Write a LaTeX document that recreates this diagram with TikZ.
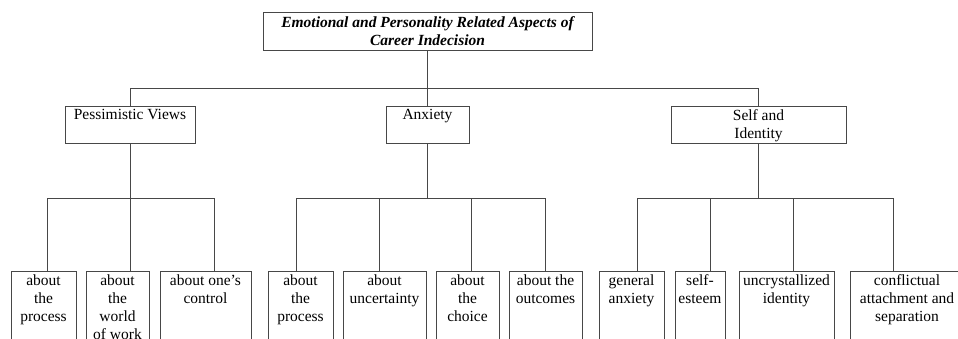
\documentclass[tikz,border=0pt]{standalone}
\usepackage{fontspec}
\setmainfont{Liberation Serif}
% fixed-size cell with its text set from the top
\newcommand\topcell[3]{\parbox[c][#2][t]{#1}{\vspace*{3.5pt}\centering #3\par}}
\begin{document}
\begin{tikzpicture}[x=1pt,y=-1pt,
  box/.style={draw=black!72, line width=0.9pt, inner sep=0pt, outer sep=0pt,
    anchor=north west, font=\fontsize{15.5}{18}\selectfont},
  link/.style={draw=black!72, line width=0.9pt}]
\clip (0,0) rectangle (958,338);

% root
\node[box, font=\fontsize{15.5}{18}\selectfont\bfseries\itshape] (title) at (263,12)
  {\parbox[c][38pt][c]{329pt}{\centering Emotional and Personality Related Aspects of\\Career Indecision\par}};

% second level
\node[box] (pv)  at (65,106)  {\topcell{130pt}{37pt}{Pessimistic Views}};
\node[box] (anx) at (386,106) {\topcell{83pt}{37pt}{Anxiety}};
\node[box] (si)  at (671,106) {\topcell{175pt}{37pt}{Self and\\Identity}};

% third level: pessimistic views
\node[box] (a1) at (11,271)  {\topcell{65pt}{100pt}{about\\the\\process}};
\node[box] (a2) at (86,271)  {\topcell{63pt}{100pt}{about\\the\\world\\of work}};
\node[box] (a3) at (160,271) {\topcell{91pt}{100pt}{about one's\\control}};
% third level: anxiety
\node[box] (b1) at (268,271) {\topcell{65pt}{100pt}{about\\the\\process}};
\node[box] (b2) at (343,271) {\topcell{83pt}{100pt}{about\\uncertainty}};
\node[box] (b3) at (436,271) {\topcell{63pt}{100pt}{about\\the\\choice}};
\node[box] (b4) at (509,271) {\topcell{73pt}{100pt}{about the\\outcomes}};
% third level: self and identity
\node[box] (c1) at (599,271) {\topcell{65pt}{100pt}{general\\anxiety}};
\node[box] (c2) at (675,271) {\topcell{50pt}{100pt}{self-\\esteem}};
\node[box] (c3) at (739,271) {\topcell{95pt}{100pt}{uncrystallized\\identity}};
\node[box] (c4) at (850,271) {\topcell{114pt}{100pt}{conflictual\\attachment and\\separation}};

% bus from the root
\coordinate (tbus) at (428,88);
\draw[link] (title.south) -- (title.south |- tbus);
\draw[link] (pv.north |- tbus) -- (si.north |- tbus);
\draw[link] (pv.north |- tbus) -- (pv.north);
\draw[link] (anx.north |- tbus) -- (anx.north);
\draw[link] (si.north |- tbus) -- (si.north);

% buses of the third level
\coordinate (p1) at (47,198);  \coordinate (p3) at (214,198);
\coordinate (q1) at (296,198); \coordinate (q2) at (379,198);
\coordinate (q3) at (471,198); \coordinate (q4) at (545,198);
\coordinate (r1) at (637,198); \coordinate (r2) at (710,198);
\coordinate (r3) at (793,198); \coordinate (r4) at (893,198);

\draw[link] (pv.south) -- (pv.south |- a2.north);
\draw[link] (p1) -- (p3);
\draw[link] (p1) -- (p1 |- a1.north);
\draw[link] (p3) -- (p3 |- a3.north);

\draw[link] (anx.south) -- (anx.south |- q1);
\draw[link] (q1) -- (q4);
\draw[link] (q1) -- (q1 |- b1.north);
\draw[link] (q2) -- (q2 |- b2.north);
\draw[link] (q3) -- (q3 |- b3.north);
\draw[link] (q4) -- (q4 |- b4.north);

\draw[link] (si.south) -- (si.south |- r1);
\draw[link] (r1) -- (r4);
\draw[link] (r1) -- (r1 |- c1.north);
\draw[link] (r2) -- (r2 |- c2.north);
\draw[link] (r3) -- (r3 |- c3.north);
\draw[link] (r4) -- (r4 |- c4.north);
\end{tikzpicture}
\end{document}
